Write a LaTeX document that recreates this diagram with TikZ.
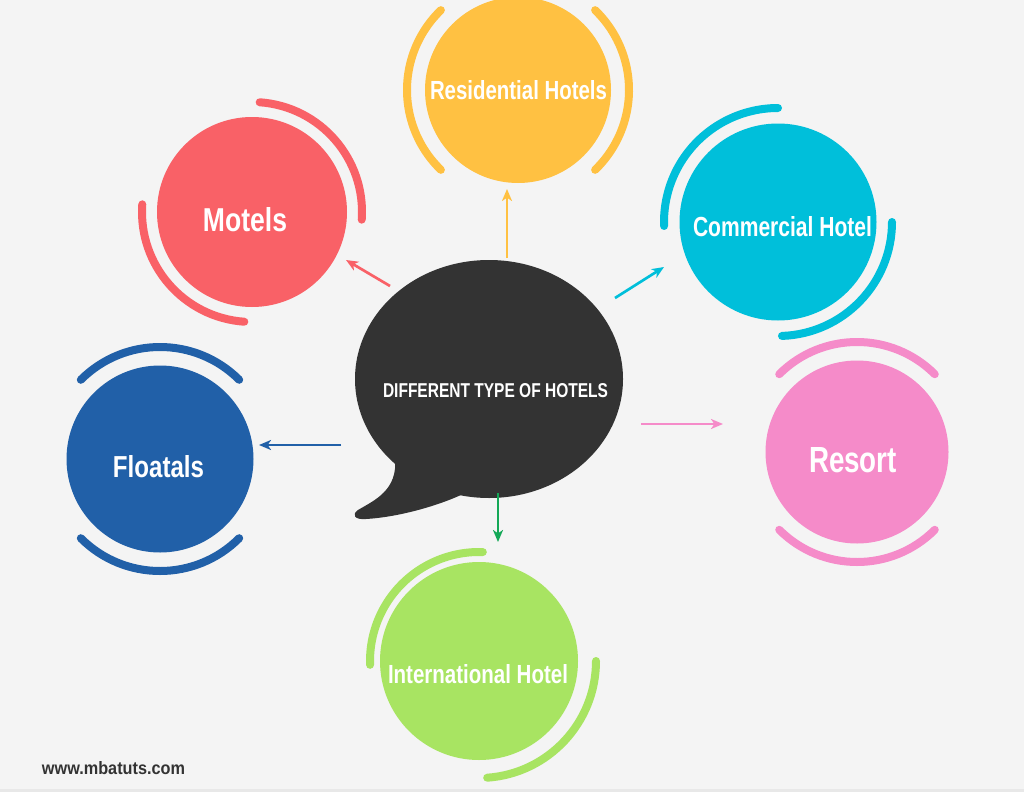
\documentclass[tikz,border=0pt]{standalone}
\usepackage{fontspec}
\setmainfont{Liberation Sans}
\usepackage{graphicx}
\usetikzlibrary{shapes.geometric,arrows.meta}
\definecolor{bgc}{HTML}{F4F4F4}
\definecolor{yel}{HTML}{FFC142}
\definecolor{redc}{HTML}{F96167}
\definecolor{cyanc}{HTML}{00BFDA}
\definecolor{bluec}{HTML}{2160A8}
\definecolor{pinkc}{HTML}{F58BC9}
\definecolor{greenc}{HTML}{A8E462}
\definecolor{greenar}{HTML}{14A857}
\definecolor{bubc}{HTML}{333333}
\definecolor{darktxt}{HTML}{333333}
\newdimen\pxu \pxu=0.75pt
\newcommand\fitlbl[3]{\resizebox{#1\pxu}{#2\pxu}{\bfseries #3}}
\tikzset{
  disc/.style={circle, inner sep=0pt, minimum size=#1*\pxu},
  ring/.style={line width=6pt, line cap=round},
  conn/.style={line width=2pt, -{Stealth[length=9pt,width=7.5pt,inset=2.5pt]}},
  lbl/.style={inner sep=0pt, text=white},
}
\begin{document}
\begin{tikzpicture}[x=0.75pt,y=-0.75pt]
\fill[bgc] (0,0) rectangle (1024,792);
\useasboundingbox (0,0) rectangle (1024,792);
\fill[black!9] (0,789) rectangle (1024,792);

% speech bubble
\node[ellipse, fill=bubc, inner sep=0pt, minimum width=268*\pxu, minimum height=238*\pxu] (bub) at (489,379) {};
\fill[bubc] (395,458) .. controls (398,490) and (375,500) .. (358,510)
  .. controls (351,515) and (355,520) .. (366,519)
  .. controls (400,517) and (440,505) .. (463,494) -- (470,440) -- cycle;
\node[lbl] (bubt) at (495.5,390.5) {\fitlbl{225}{14}{DIFFERENT TYPE OF HOTELS}};

% circles
\node[disc=186, fill=yel] (res) at (518,90) {};
\node[disc=190, fill=redc] (mot) at (252,212) {};
\node[disc=197, fill=cyanc] (com) at (778,222) {};
\node[disc=187, fill=bluec] (flo) at (160,459) {};
\node[disc=183, fill=pinkc] (reso) at (857,452) {};
\node[disc=198, fill=greenc] (int) at (479,661) {};

% rings
\draw[ring, yel] ([shift={(134:83.25pt)}]res.center) arc[start angle=134, end angle=226, radius=83.25pt];
\draw[ring, yel] ([shift={(46:83.25pt)}]res.center) arc[start angle=46, end angle=-46, radius=83.25pt];
\draw[ring, redc] ([shift={(86:82.5pt)}]mot.center) arc[start angle=86, end angle=-4, radius=82.5pt];
\draw[ring, redc] ([shift={(176:82.5pt)}]mot.center) arc[start angle=176, end angle=266, radius=82.5pt];
\draw[ring, cyanc] ([shift={(90:85.5pt)}]com.center) arc[start angle=90, end angle=182, radius=85.5pt];
\draw[ring, cyanc] ([shift={(0:85.5pt)}]com.center) arc[start angle=0, end angle=-88, radius=85.5pt];
\draw[ring, bluec] ([shift={(45:84pt)}]flo.center) arc[start angle=45, end angle=135, radius=84pt];
\draw[ring, bluec] ([shift={(225:84pt)}]flo.center) arc[start angle=225, end angle=315, radius=84pt];
\draw[ring, pinkc] ([shift={(45:82.5pt)}]reso.center) arc[start angle=45, end angle=135, radius=82.5pt];
\draw[ring, pinkc] ([shift={(225:82.5pt)}]reso.center) arc[start angle=225, end angle=315, radius=82.5pt];
\draw[ring, greenc] ([shift={(88:81.75pt)}]int.center) arc[start angle=88, end angle=182, radius=81.75pt];
\draw[ring, greenc] ([shift={(0:87.75pt)}]int.center) arc[start angle=0, end angle=-86, radius=87.75pt];

% labels
\node[lbl] (rest) at (518.5,90.5) {\fitlbl{177}{19}{Residential Hotels}};
\node[lbl] (mott) at (245,220) {\fitlbl{84}{24}{Motels}};
\node[lbl] (comt) at (782.5,227) {\fitlbl{179}{20}{Commercial Hotel}};
\node[lbl] (flot) at (158.5,467) {\fitlbl{91}{22}{Floatals}};
\node[lbl] (resot) at (853,460.5) {\fitlbl{88}{25}{Resort}};
\node[lbl] (intt) at (478,674.5) {\fitlbl{180}{19}{International Hotel}};
\node[lbl, text=darktxt] (web) at (113.5,768) {\fitlbl{143}{13}{www.mbatuts.com}};

% connectors
\coordinate (a1) at (507,258); \coordinate (b1) at (507,189);
\coordinate (a2) at (390,286); \coordinate (b2) at (346,260);
\coordinate (a3) at (615,298); \coordinate (b3) at (664,267);
\coordinate (a4) at (341,445); \coordinate (b4) at (259,445);
\coordinate (a5) at (641,424); \coordinate (b5) at (723,424);
\coordinate (a6) at (498,493); \coordinate (b6) at (498,542);
\draw[conn, yel] (a1) -- (b1);
\draw[conn, redc] (a2) -- (b2);
\draw[conn, cyanc] (a3) -- (b3);
\draw[conn, bluec] (a4) -- (b4);
\draw[conn, pinkc] (a5) -- (b5);
\draw[conn, greenar] (a6) -- (b6);
\end{tikzpicture}
\end{document}
